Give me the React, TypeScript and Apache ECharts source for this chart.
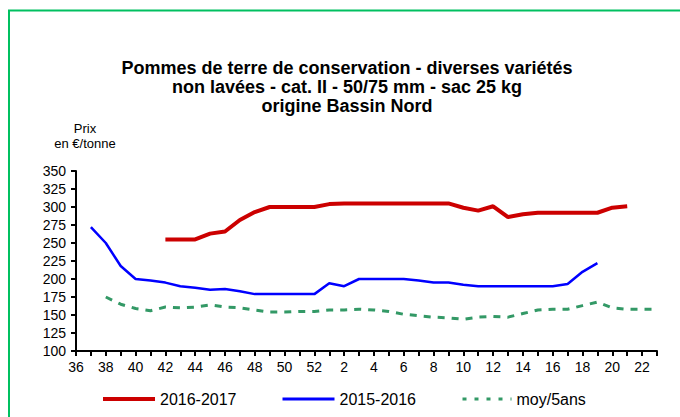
import React, { useEffect, useRef } from "react";
import * as echarts from "echarts";

const weeks: string[] = [
  "36", "37", "38", "39", "40", "41", "42", "43", "44", "45", "46", "47", "48", "49", "50", "51", "52",
  "1", "2", "3", "4", "5", "6", "7", "8", "9", "10", "11", "12", "13", "14", "15", "16", "17", "18", "19", "20", "21", "22", "23",
];

const season2016: (number | null)[] = [
  null, null, null, null, null, null, 255, 255, 255, 263, 266, 282, 293, 300, 300, 300, 300,
  304, 305, 305, 305, 305, 305, 305, 305, 305, 299, 295, 301, 286, 290, 292, 292, 292, 292, 292, 299, 301, null, null,
];

const season2015: (number | null)[] = [
  null, 272, 250, 218, 200, 198, 195, 190, 188, 185, 186, 183, 179, 179, 179, 179, 179,
  194, 190, 200, 200, 200, 200, 198, 195, 195, 192, 190, 190, 190, 190, 190, 190, 193, 210, 222, null, null, null, null,
];

const avg5: (number | null)[] = [
  null, null, 175, 165, 159, 156, 161, 160, 161, 164, 161, 160, 157, 154, 154, 155, 155,
  157, 157, 158, 157, 155, 151, 149, 147, 146, 144, 147, 148, 147, 152, 157, 158, 158, 163, 168, 160, 158, 158, 158,
];

const seriesNames = ["2016-2017", "2015-2016", "moy/5ans"];
const titleLines = [
  "Pommes de terre de conservation - diverses variétés",
  "non lavées - cat. II - 50/75 mm - sac 25 kg",
  "origine Bassin Nord",
];
const unitLines = ["Prix", "en €/tonne"];

const FONT = "'Liberation Sans', Arial, sans-serif";

export default function App() {
  const ref = useRef<HTMLDivElement>(null);
  useEffect(() => {
    if (!ref.current) return;
    const chart = echarts.init(ref.current, undefined, { renderer: "svg" });
    const legendCommon = {
      itemWidth: 52,
      itemHeight: 14,
      top: 386,
      selectedMode: false,
      itemStyle: { opacity: 0 },
      textStyle: { fontSize: 16, color: "#000", fontFamily: FONT },
    };
    chart.setOption({
      animation: false,
      backgroundColor: "#fff",
      title: {
        text: titleLines.join("\n"),
        left: 342,
        top: 53,
        textAlign: "center",
        textStyle: {
          fontSize: 18,
          fontWeight: "bold",
          lineHeight: 19,
          color: "#000",
          fontFamily: FONT,
        },
      },
      graphic: [
        {
          type: "rect",
          shape: { x: 9, y: 10.5, width: 700, height: 420 },
          style: { fill: "none", stroke: "#00c060", lineWidth: 2 },
          silent: true,
        },
        {
          type: "text",
          x: 85,
          y: 121,
          style: {
            text: unitLines.join("\n"),
            align: "center",
            fontSize: 13,
            lineHeight: 15,
            fill: "#000",
            fontFamily: FONT,
          },
        },
      ],
      legend: [
        { ...legendCommon, data: [seriesNames[0]], left: 96, lineStyle: { width: 4 } },
        { ...legendCommon, data: [seriesNames[1]], left: 276, lineStyle: { width: 3 } },
        {
          ...legendCommon,
          data: [seriesNames[2]],
          left: 456,
          itemWidth: 49,
          lineStyle: { width: 3, type: [4, 8] },
        },
      ],
      grid: { left: 76, top: 171, width: 581, height: 180, containLabel: false },
      xAxis: {
        type: "category",
        data: weeks,
        boundaryGap: false,
        axisLine: { lineStyle: { color: "#000", width: 2 } },
        axisTick: { interval: 0, length: 5, lineStyle: { color: "#000", width: 2 } },
        axisLabel: {
          interval: 1,
          margin: 9,
          fontSize: 14,
          color: "#000",
          fontFamily: FONT,
        },
        splitLine: { show: false },
      },
      yAxis: {
        type: "value",
        min: 100,
        max: 350,
        interval: 25,
        axisLine: { show: true, lineStyle: { color: "#000", width: 2 } },
        axisTick: { show: true, length: 5, lineStyle: { color: "#000", width: 2 } },
        axisLabel: { margin: 10, fontSize: 14, color: "#000", fontFamily: FONT },
        splitLine: { show: false },
      },
      series: [
        {
          name: seriesNames[0],
          type: "line",
          data: season2016,
          symbol: "none",
          connectNulls: false,
          color: "#cc0000",
          lineStyle: { color: "#cc0000", width: 4 },
          z: 3,
        },
        {
          name: seriesNames[1],
          type: "line",
          data: season2015,
          symbol: "none",
          connectNulls: false,
          color: "#0000ff",
          lineStyle: { color: "#0000ff", width: 2.5 },
          z: 2,
        },
        {
          name: seriesNames[2],
          type: "line",
          data: avg5,
          symbol: "none",
          connectNulls: false,
          color: "#339966",
          lineStyle: { color: "#339966", width: 3, type: [7, 7] },
          z: 1,
        },
      ],
    });
    return () => chart.dispose();
  }, []);
  return (
    <div
      ref={ref}
      style={{ position: "fixed", left: 0, top: 0, width: 680, height: 417, background: "#fff" }}
    />
  );
}
